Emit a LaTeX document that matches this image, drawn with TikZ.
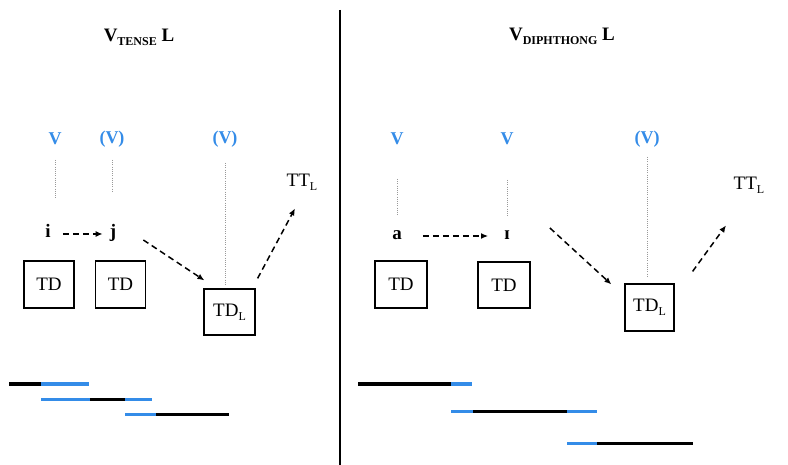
\documentclass[tikz,border=0pt]{standalone}
\usepackage{fontspec}
\setmainfont{Liberation Serif}
\usetikzlibrary{arrows.meta}
\definecolor{vblue}{RGB}{52,140,232}
\newcommand\lsub[1]{\raisebox{-4pt}{\fontsize{12}{12}\selectfont #1}}
\begin{document}
\begin{tikzpicture}[x=1pt,y=-1pt,
 lbl/.style={inner sep=0pt, font=\fontsize{19}{22}\selectfont},
 ttl/.style={inner sep=0pt, font=\fontsize{19}{22}\selectfont\bfseries},
 vlab/.style={inner sep=0pt, font=\fontsize{18}{22}\selectfont\bfseries, text=vblue},
 seg/.style={inner sep=0pt, font=\fontsize{19}{22}\selectfont\bfseries, anchor=base, text height=13pt, text depth=4pt},
 box/.style={draw, line width=1.2pt, minimum width=50pt, minimum height=47pt, inner sep=0pt, font=\fontsize{19}{22}\selectfont},
 dot/.style={draw=gray!80, line width=1pt, dash pattern=on 1pt off 1.2pt},
 arr/.style={line width=1.5pt, dash pattern=on 6pt off 4pt, -{Latex[length=7pt,width=6pt]}},
 bar/.style={line width=3pt},
 ]
\fill[white] (0,0) rectangle (788,465);
\useasboundingbox (0,0) rectangle (788,465);

% divider
\draw[line width=2pt] (340,10) -- (340,465);

% ---------- left panel ----------
\node[ttl] (t1) at (139,37) {V\lsub{TENSE} L};
\node[vlab] (v1) at (55,139) {V};
\node[vlab] (v2) at (112,139) {(V)};
\node[vlab] (v3) at (225,139) {(V)};
\node[lbl] (tt1) at (302,182) {TT\lsub{L}};
\node[seg] (i) at (48,238) {i};
\node[seg] (j) at (113,238) {j};
\node[box] (td1) at (49,284.5) {TD};
\node[box] (td2) at (120.5,284.5) {TD};
\node[box, minimum width=51pt, minimum height=46pt] (tdl1) at (229.5,312) {TD\lsub{L}};

\draw[dot] (v1 |- 0,160) -- (v1 |- 0,198);
\draw[dot] (v2 |- 0,160) -- (v2 |- 0,193);
\draw[dot] (v3 |- 0,163) -- (v3 |- 0,285);

\draw[arr] (i.east |- 0,234) -- (j.west |- 0,234) [shorten <=12pt, shorten >=7pt];
\draw[arr] ([xshift=27pt,yshift=-6.5pt]j.east) -- ([xshift=1pt,yshift=8pt]tdl1.north west);
\draw[arr] ([xshift=2pt,yshift=10pt]tdl1.north east) -- ([xshift=-7pt,yshift=-18pt]tt1.south);

\draw[bar] (9,384) -- (41,384);
\draw[bar,vblue] (41,384) -- (89,384);
\draw[bar,vblue] (41,399) -- (90,399);
\draw[bar] (90,399) -- (125,399);
\draw[bar,vblue] (125,399) -- (152,399);
\draw[bar,vblue] (125,414) -- (156,414);
\draw[bar] (156,414) -- (229,414);

% ---------- right panel ----------
\node[ttl] (t2) at (562,36) {V\lsub{DIPHTHONG} L};
\node[vlab] (w1) at (397,139) {V};
\node[vlab] (w2) at (507,139) {V};
\node[vlab] (w3) at (647,139) {(V)};
\node[lbl] (tt2) at (749,185) {TT\lsub{L}};
\node[seg] (a) at (397,240) {a};
\node[seg] (ih) at (507,240) {ɪ};
\node[box, minimum width=52pt] (td3) at (401,284.5) {TD};
\node[box, minimum width=52pt, minimum height=46pt] (td4) at (504,285) {TD};
\node[box, minimum width=49pt, minimum height=47pt] (tdl2) at (649.5,307.5) {TD\lsub{L}};

\draw[dot] (w1 |- 0,179) -- (w1 |- 0,216);
\draw[dot] (w2 |- 0,180) -- (w2 |- 0,217);
\draw[dot] (w3 |- 0,157) -- (w3 |- 0,277);

\draw[arr] (a.east |- 0,236) -- (ih.west |- 0,236) [shorten <=21pt, shorten >=16pt];
\draw[arr] ([xshift=40pt,yshift=7.5pt]ih.east) -- ([xshift=-13pt,yshift=-1pt]tdl2.north west);
\draw[arr] ([xshift=18pt,yshift=12pt]tdl2.north east) -- ([xshift=-23pt,yshift=-32pt]tt2.south);

\draw[bar] (358,384) -- (451,384);
\draw[bar,vblue] (451,384) -- (472,384);
\draw[bar,vblue] (451,411) -- (473,411);
\draw[bar] (473,411) -- (567,411);
\draw[bar,vblue] (567,411) -- (597,411);
\draw[bar,vblue] (567,443) -- (597,443);
\draw[bar] (597,443) -- (693,443);
\end{tikzpicture}
\end{document}
